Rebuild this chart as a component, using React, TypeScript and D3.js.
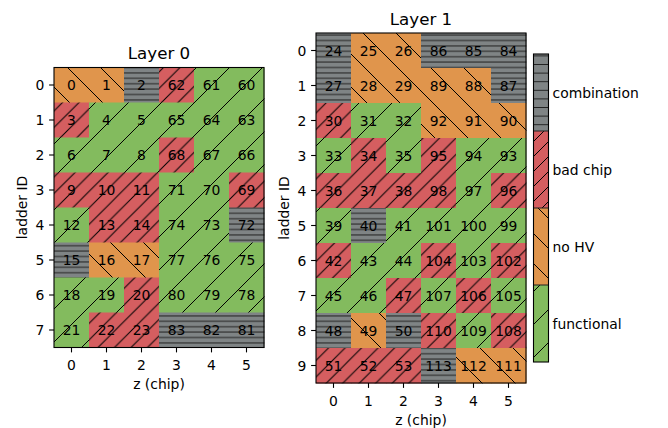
import React from "react";
import * as d3 from "d3";

// status codes: 0 functional, 1 no HV, 2 bad chip, 3 combination
const categories = ["functional", "no HV", "bad chip", "combination"];
const catColors = ["#83bb5e", "#e0954c", "#d55e60", "#7f8485"];
const chips = [0, 1, 2, 3, 4, 5];

const layer0Ids = [
  [0, 1, 2, 62, 61, 60],
  [3, 4, 5, 65, 64, 63],
  [6, 7, 8, 68, 67, 66],
  [9, 10, 11, 71, 70, 69],
  [12, 13, 14, 74, 73, 72],
  [15, 16, 17, 77, 76, 75],
  [18, 19, 20, 80, 79, 78],
  [21, 22, 23, 83, 82, 81],
];
const layer0Status = [
  [1, 1, 3, 2, 0, 0],
  [2, 0, 0, 0, 0, 0],
  [0, 0, 0, 2, 0, 0],
  [2, 2, 2, 0, 0, 2],
  [0, 2, 2, 0, 0, 3],
  [3, 1, 1, 0, 0, 0],
  [0, 0, 2, 0, 0, 0],
  [0, 2, 2, 3, 3, 3],
];

const layer1Ids = [
  [24, 25, 26, 86, 85, 84],
  [27, 28, 29, 89, 88, 87],
  [30, 31, 32, 92, 91, 90],
  [33, 34, 35, 95, 94, 93],
  [36, 37, 38, 98, 97, 96],
  [39, 40, 41, 101, 100, 99],
  [42, 43, 44, 104, 103, 102],
  [45, 46, 47, 107, 106, 105],
  [48, 49, 50, 110, 109, 108],
  [51, 52, 53, 113, 112, 111],
];
const layer1Status = [
  [3, 1, 1, 3, 3, 3],
  [3, 1, 1, 1, 1, 3],
  [2, 0, 0, 1, 1, 1],
  [0, 2, 0, 2, 0, 0],
  [2, 2, 2, 2, 0, 2],
  [0, 3, 0, 0, 0, 0],
  [2, 0, 0, 2, 0, 2],
  [0, 0, 2, 0, 2, 0],
  [3, 1, 3, 2, 0, 2],
  [2, 2, 2, 3, 1, 1],
];

const FONT = "DejaVu Sans, sans-serif";
const CELL = 35;

const diagUp = (id: string, s: number, color: string) => (
  <pattern id={id} patternUnits="userSpaceOnUse" width={s} height={s}>
    <rect width={s} height={s} fill={color} />
    <path
      d={`M-1,1 l2,-2 M0,${s} l${s},${-s} M${s - 1},${s + 1} l2,-2`}
      stroke="#000"
      strokeWidth={1}
    />
  </pattern>
);
const diagDown = (id: string, s: number, color: string) => (
  <pattern id={id} patternUnits="userSpaceOnUse" width={s} height={s}>
    <rect width={s} height={s} fill={color} />
    <path
      d={`M0,0 l${s},${s} M-1,${s - 1} l2,2 M${s - 1},-1 l2,2`}
      stroke="#000"
      strokeWidth={1}
    />
  </pattern>
);
const horiz = (id: string, s: number, color: string) => (
  <pattern id={id} patternUnits="userSpaceOnUse" width={10} height={s}>
    <rect width={10} height={s} fill={color} />
    <path d={`M0,${s / 2} h10`} stroke="#222" strokeWidth={1} />
  </pattern>
);

const fillOf = (c: number, prefix: string) => `url(#${prefix}${c})`;

type HeatProps = {
  left: number;
  top: number;
  title: string;
  ids: number[][];
  status: number[][];
};

const Heatmap = ({ left, top, title, ids, status }: HeatProps) => {
  const rows = d3.range(ids.length);
  const x = d3
    .scaleBand<number>()
    .domain(chips)
    .range([left, left + CELL * chips.length]);
  const y = d3
    .scaleBand<number>()
    .domain(rows)
    .range([top, top + CELL * rows.length]);
  const right = left + CELL * chips.length;
  const bottom = top + CELL * rows.length;
  return (
    <g fontFamily={FONT}>
      {rows.map((r) =>
        chips.map((c) => (
          <rect
            key={`${r}-${c}`}
            x={x(c)}
            y={y(r)}
            width={x.bandwidth() + 0.5}
            height={y.bandwidth() + 0.5}
            fill={fillOf(status[r][c], "h")}
          />
        ))
      )}
      {rows.map((r) =>
        chips.map((c) => (
          <text
            key={`t${r}-${c}`}
            x={(x(c) as number) + x.bandwidth() / 2}
            y={(y(r) as number) + y.bandwidth() / 2}
            dy="0.36em"
            textAnchor="middle"
            fontSize={13.9}
          >
            {ids[r][c]}
          </text>
        ))
      )}
      <rect
        x={left}
        y={top}
        width={right - left}
        height={bottom - top}
        fill="none"
        stroke="#000"
        strokeWidth={1.1}
      />
      {chips.map((c) => {
        const cx = (x(c) as number) + x.bandwidth() / 2;
        return (
          <g key={`xt${c}`}>
            <line x1={cx} x2={cx} y1={bottom} y2={bottom + 4.9} stroke="#000" strokeWidth={1.1} />
            <text x={cx} y={bottom + 22.5} textAnchor="middle" fontSize={13.9}>
              {c}
            </text>
          </g>
        );
      })}
      {rows.map((r) => {
        const cy = (y(r) as number) + y.bandwidth() / 2;
        return (
          <g key={`yt${r}`}>
            <line x1={left - 4.9} x2={left} y1={cy} y2={cy} stroke="#000" strokeWidth={1.1} />
            <text x={left - 9.7} y={cy} dy="0.36em" textAnchor="end" fontSize={13.9}>
              {r}
            </text>
          </g>
        );
      })}
      <text x={(left + right) / 2} y={top - 8.3} textAnchor="middle" fontSize={16.7}>
        {title}
      </text>
      <text x={(left + right) / 2} y={bottom + 41.5} textAnchor="middle" fontSize={13.9}>
        z (chip)
      </text>
      <text
        transform={`translate(${left - 27.3},${(top + bottom) / 2}) rotate(-90)`}
        textAnchor="middle"
        fontSize={13.9}
      >
        ladder ID
      </text>
    </g>
  );
};

const Colorbar = () => {
  const left = 533.5;
  const width = 15;
  const cb = d3
    .scaleBand<number>()
    .domain([3, 2, 1, 0])
    .range([54, 362]);
  return (
    <g fontFamily={FONT}>
      {cb.domain().map((c) => (
        <rect
          key={c}
          x={left}
          y={cb(c)}
          width={width}
          height={cb.bandwidth()}
          fill={fillOf(c, "c")}
        />
      ))}
      {cb.domain().slice(1).map((c) => (
        <line
          key={`b${c}`}
          x1={left}
          x2={left + width}
          y1={cb(c)}
          y2={cb(c)}
          stroke="#222"
          strokeWidth={1}
        />
      ))}
      <rect x={left} y={54} width={width} height={308} fill="none" stroke="#000" strokeWidth={1.1} />
      {cb.domain().map((c) => (
        <text
          key={`l${c}`}
          x={left + width + 4}
          y={(cb(c) as number) + cb.bandwidth() / 2}
          dy="0.36em"
          fontSize={13.9}
        >
          {categories[c]}
        </text>
      ))}
    </g>
  );
};

const App = () => {
  return (
    <svg
      width={668}
      height={428}
      style={{ position: "absolute", left: 0, top: 0, background: "#fff" }}
    >
      <defs>
        {diagUp("h0", 33, catColors[0])}
        {diagDown("h1", 33, catColors[1])}
        {diagUp("h2", 16.5, catColors[2])}
        {horiz("h3", 5.4, catColors[3])}
        {diagUp("c0", 33, catColors[0])}
        {diagDown("c1", 30, catColors[1])}
        {diagUp("c2", 15, catColors[2])}
        {horiz("c3", 8.6, catColors[3])}
      </defs>
      <Heatmap left={54} top={67.5} title="Layer 0" ids={layer0Ids} status={layer0Status} />
      <Heatmap left={316} top={33} title="Layer 1" ids={layer1Ids} status={layer1Status} />
      <Colorbar />
    </svg>
  );
};

export default App;
